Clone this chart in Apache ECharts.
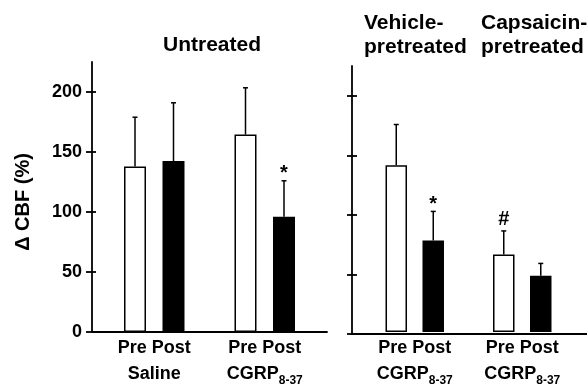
<!DOCTYPE html>
<html><head><meta charset="utf-8">
<script src="https://cdn.jsdelivr.net/npm/echarts@6/dist/echarts.min.js"></script>
<style>html,body{margin:0;padding:0;background:#fff}#c{width:587px;height:387px}</style>
</head><body><div id="c"></div>
<script>
// ---- data ----
const yTicks = [0, 50, 100, 150, 200];
const leftGroups = ['Saline', 'CGRP'];
const leftPre = [138, 164.5];
const leftPreSD = [41, 39];
const leftPost = [142.5, 96];
const leftPostSD = [48.5, 30];
const leftPreMark = ['', ''];
const leftPostMark = ['', '*'];

const rightGroups = ['Vehicle', 'Capsaicin'];
const rightPre = [141, 65.5];
const rightPreSD = [34.5, 20];
const rightPost = [77.5, 47.5];
const rightPostSD = [24.5, 10.5];
const rightPreMark = ['', '#'];
const rightPostMark = ['*', ''];

// ---- styles ----
const FONT = "'Liberation Sans', Arial, Helvetica, sans-serif";
const YMAX = 225;
const markLift = {'*': 7, '#': 11};

const labelRich = {
  a: {fontFamily: FONT, fontWeight: 'bold', fontSize: 18, color: '#000', lineHeight: 26},
  b: {fontFamily: FONT, fontWeight: 'bold', fontSize: 18, color: '#000', lineHeight: 26},
  s: {fontFamily: FONT, fontWeight: 'bold', fontSize: 12, color: '#000', lineHeight: 22, verticalAlign: 'bottom'}
};
function groupLabel(name) {
  if (name === 'Saline') return '{a|Pre Post}\n{b|Saline}';
  return '{a|Pre Post}\n{b|CGRP}{s|8-37}';
}

function errSeries(xi, yi, means, sds, marks, offset) {
  return {
    type: 'custom', xAxisIndex: xi, yAxisIndex: yi, z: 5,
    data: means.map((m, i) => [i, m, sds[i]]),
    renderItem: function (params, api) {
      const c = api.value(0), m = api.value(1), s = api.value(2);
      const x = api.coord([c, 0])[0] + offset;
      const yb = api.coord([c, m])[1];
      const yt = api.coord([c, m + s])[1];
      const st = {stroke: '#000', lineWidth: 1.5};
      const children = [
        {type: 'line', shape: {x1: x, y1: yb, x2: x, y2: yt}, style: st},
        {type: 'line', shape: {x1: x - 2.5, y1: yt, x2: x + 2.5, y2: yt}, style: st}
      ];
      const mk = marks[params.dataIndex];
      if (mk) {
        children.push({type: 'text', style: {text: mk, x: x, y: yt - markLift[mk],
          align: 'center', verticalAlign: 'middle', fontFamily: FONT, fontWeight: 'bold', fontSize: 20, fill: '#000'}});
      }
      return {type: 'group', children: children};
    }
  };
}

function barSeries(xi, yi, data, fill, bw, gap) {
  return {
    type: 'bar', xAxisIndex: xi, yAxisIndex: yi, data: data, barWidth: bw, barGap: gap,
    itemStyle: {color: fill, borderColor: '#000', borderWidth: 1.5}, z: 3
  };
}

const lineStyle = {color: '#000', width: 1.8};
function axisY(gi, show, inside, len, labels) {
  return {
    type: 'value', gridIndex: gi, position: 'left', min: 0, max: YMAX, interval: 50,
    splitLine: {show: false},
    axisLine: {show: show, lineStyle: lineStyle},
    axisTick: {show: len > 0, inside: inside, length: len, customValues: yTicks, lineStyle: lineStyle},
    axisLabel: {show: labels, customValues: yTicks, margin: 10, fontFamily: FONT, fontWeight: 'bold', fontSize: 18, color: '#000'}
  };
}
function axisYHidden(gi) {
  return {type: 'value', gridIndex: gi, min: 0, max: YMAX, show: false, splitLine: {show: false}};
}

const chart = echarts.init(document.getElementById('c'), null, {renderer: 'canvas'});
chart.setOption({
  backgroundColor: '#fff',
  animation: false,
  grid: [
    {left: 92, right: 260, top: 62, bottom: 55},
    {left: 99, right: 267, top: 62, bottom: 55},
    {left: 352, right: 0, top: 66, bottom: 53},
    {left: 361, right: 11, top: 66, bottom: 53}
  ],
  xAxis: [
    {type: 'category', gridIndex: 0, data: [''], axisLine: {lineStyle: lineStyle}, axisTick: {show: false}, axisLabel: {show: false}},
    {type: 'category', gridIndex: 1, data: leftGroups, axisLine: {show: false}, axisTick: {show: false},
      axisLabel: {interval: 0, hideOverlap: false, margin: 3, formatter: groupLabel, rich: labelRich}},
    {type: 'category', gridIndex: 2, data: [''], axisLine: {lineStyle: lineStyle}, axisTick: {show: false}, axisLabel: {show: false}},
    {type: 'category', gridIndex: 3, data: rightGroups, axisLine: {show: false}, axisTick: {show: false},
      axisLabel: {interval: 0, hideOverlap: false, margin: 3, formatter: function () { return groupLabel('CGRP'); }, rich: labelRich}}
  ],
  yAxis: [
    axisY(0, true, false, 6, true),
    axisY(0, false, true, 4, false),
    axisYHidden(1),
    axisY(2, true, false, 5, false),
    axisY(2, false, true, 5, false),
    axisYHidden(3)
  ],
  graphic: [
    {type: 'text', x: 23, y: 202, rotation: Math.PI / 2,
      style: {text: 'Δ CBF (%)', align: 'center', verticalAlign: 'middle', fontFamily: FONT, fontWeight: 'bold', fontSize: 20, fill: '#000'}},
    {type: 'text', x: 212, y: 45,
      style: {text: 'Untreated', align: 'center', verticalAlign: 'middle', fontFamily: FONT, fontWeight: 'bold', fontSize: 21, fill: '#000'}},
    {type: 'text', x: 364, y: 11,
      style: {text: 'Vehicle-\npretreated', align: 'left', verticalAlign: 'top', lineHeight: 24, fontFamily: FONT, fontWeight: 'bold', fontSize: 21, fill: '#000'}},
    {type: 'text', x: 481, y: 11,
      style: {text: 'Capsaicin-\npretreated', align: 'left', verticalAlign: 'top', lineHeight: 24, fontFamily: FONT, fontWeight: 'bold', fontSize: 21, fill: '#000'}}
  ],
  series: [
    barSeries(1, 2, leftPre, '#fff', 22, '75%'),
    barSeries(1, 2, leftPost, '#000', 22, '75%'),
    errSeries(1, 2, leftPre, leftPreSD, leftPreMark, -19.25),
    errSeries(1, 2, leftPost, leftPostSD, leftPostMark, 19.25),
    barSeries(3, 5, rightPre, '#fff', 21.5, '72%'),
    barSeries(3, 5, rightPost, '#000', 21.5, '72%'),
    errSeries(3, 5, rightPre, rightPreSD, rightPreMark, -18.5),
    errSeries(3, 5, rightPost, rightPostSD, rightPostMark, 18.5)
  ]
});
</script>
</body></html>
